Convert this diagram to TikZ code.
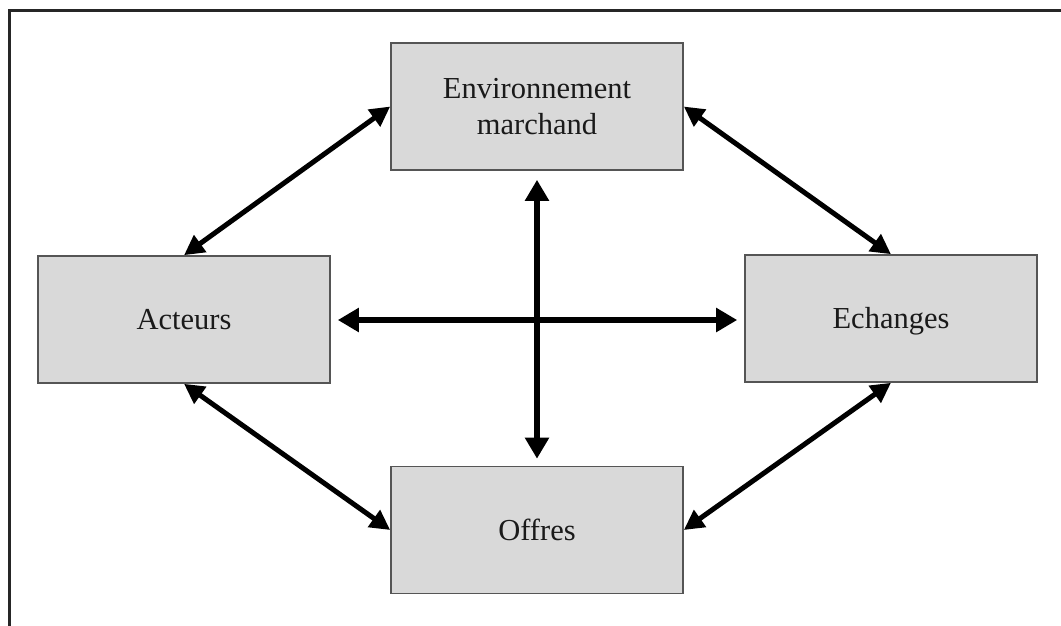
\documentclass[tikz,border=0pt]{standalone}
\usepackage{fontspec}
\setmainfont{Liberation Serif}
\usetikzlibrary{arrows.meta}
\definecolor{boxfill}{HTML}{D9D9D9}
\definecolor{boxline}{HTML}{555555}
\definecolor{txt}{HTML}{1A1A1A}
\begin{document}
\begin{tikzpicture}[x=1pt,y=-1pt,
  box/.style={draw=boxline, line width=1.6pt, fill=boxfill, rectangle, inner sep=0pt,
    minimum width=292pt, minimum height=127pt, align=center, text=txt,
    font=\fontsize{30.5}{36}\selectfont},
  one/.style={text height=20pt, text depth=0pt},
  link/.style={line width=5.5pt, {Triangle[length=21pt,width=23pt]}-{Triangle[length=21pt,width=23pt]}},
  dlink/.style={line width=5pt, {Triangle[length=20pt,width=20pt]}-{Triangle[length=20pt,width=20pt]}}]
\useasboundingbox (0,0) rectangle (1061,625);
\fill[white] (0,0) rectangle (1061,625);
\draw[line width=2.2pt, color=black!85] (9.5,626) -- (9.5,10.5) -- (1062,10.5);
\node[box] (env) at (537,106.5) {Environnement\\marchand};
\node[box, one] (act) at (184,319.5) {Acteurs};
\node[box, one] (ech) at (891,318.5) {Echanges};
\node[box, one] (off) at (537,530) {Offres};
\draw[dlink] (act.north) -- (env.west);
\draw[dlink] (env.east) -- (ech.north);
\draw[dlink] (act.south) -- (off.west);
\draw[dlink] (ech.south) -- (off.east);
\draw[link, shorten <=7pt, shorten >=7pt] (act.east |- 0,320) -- (ech.west |- 0,320);
\draw[link, shorten <=9pt, shorten >=7pt] (env.south) -- (off.north);
\end{tikzpicture}
\end{document}
